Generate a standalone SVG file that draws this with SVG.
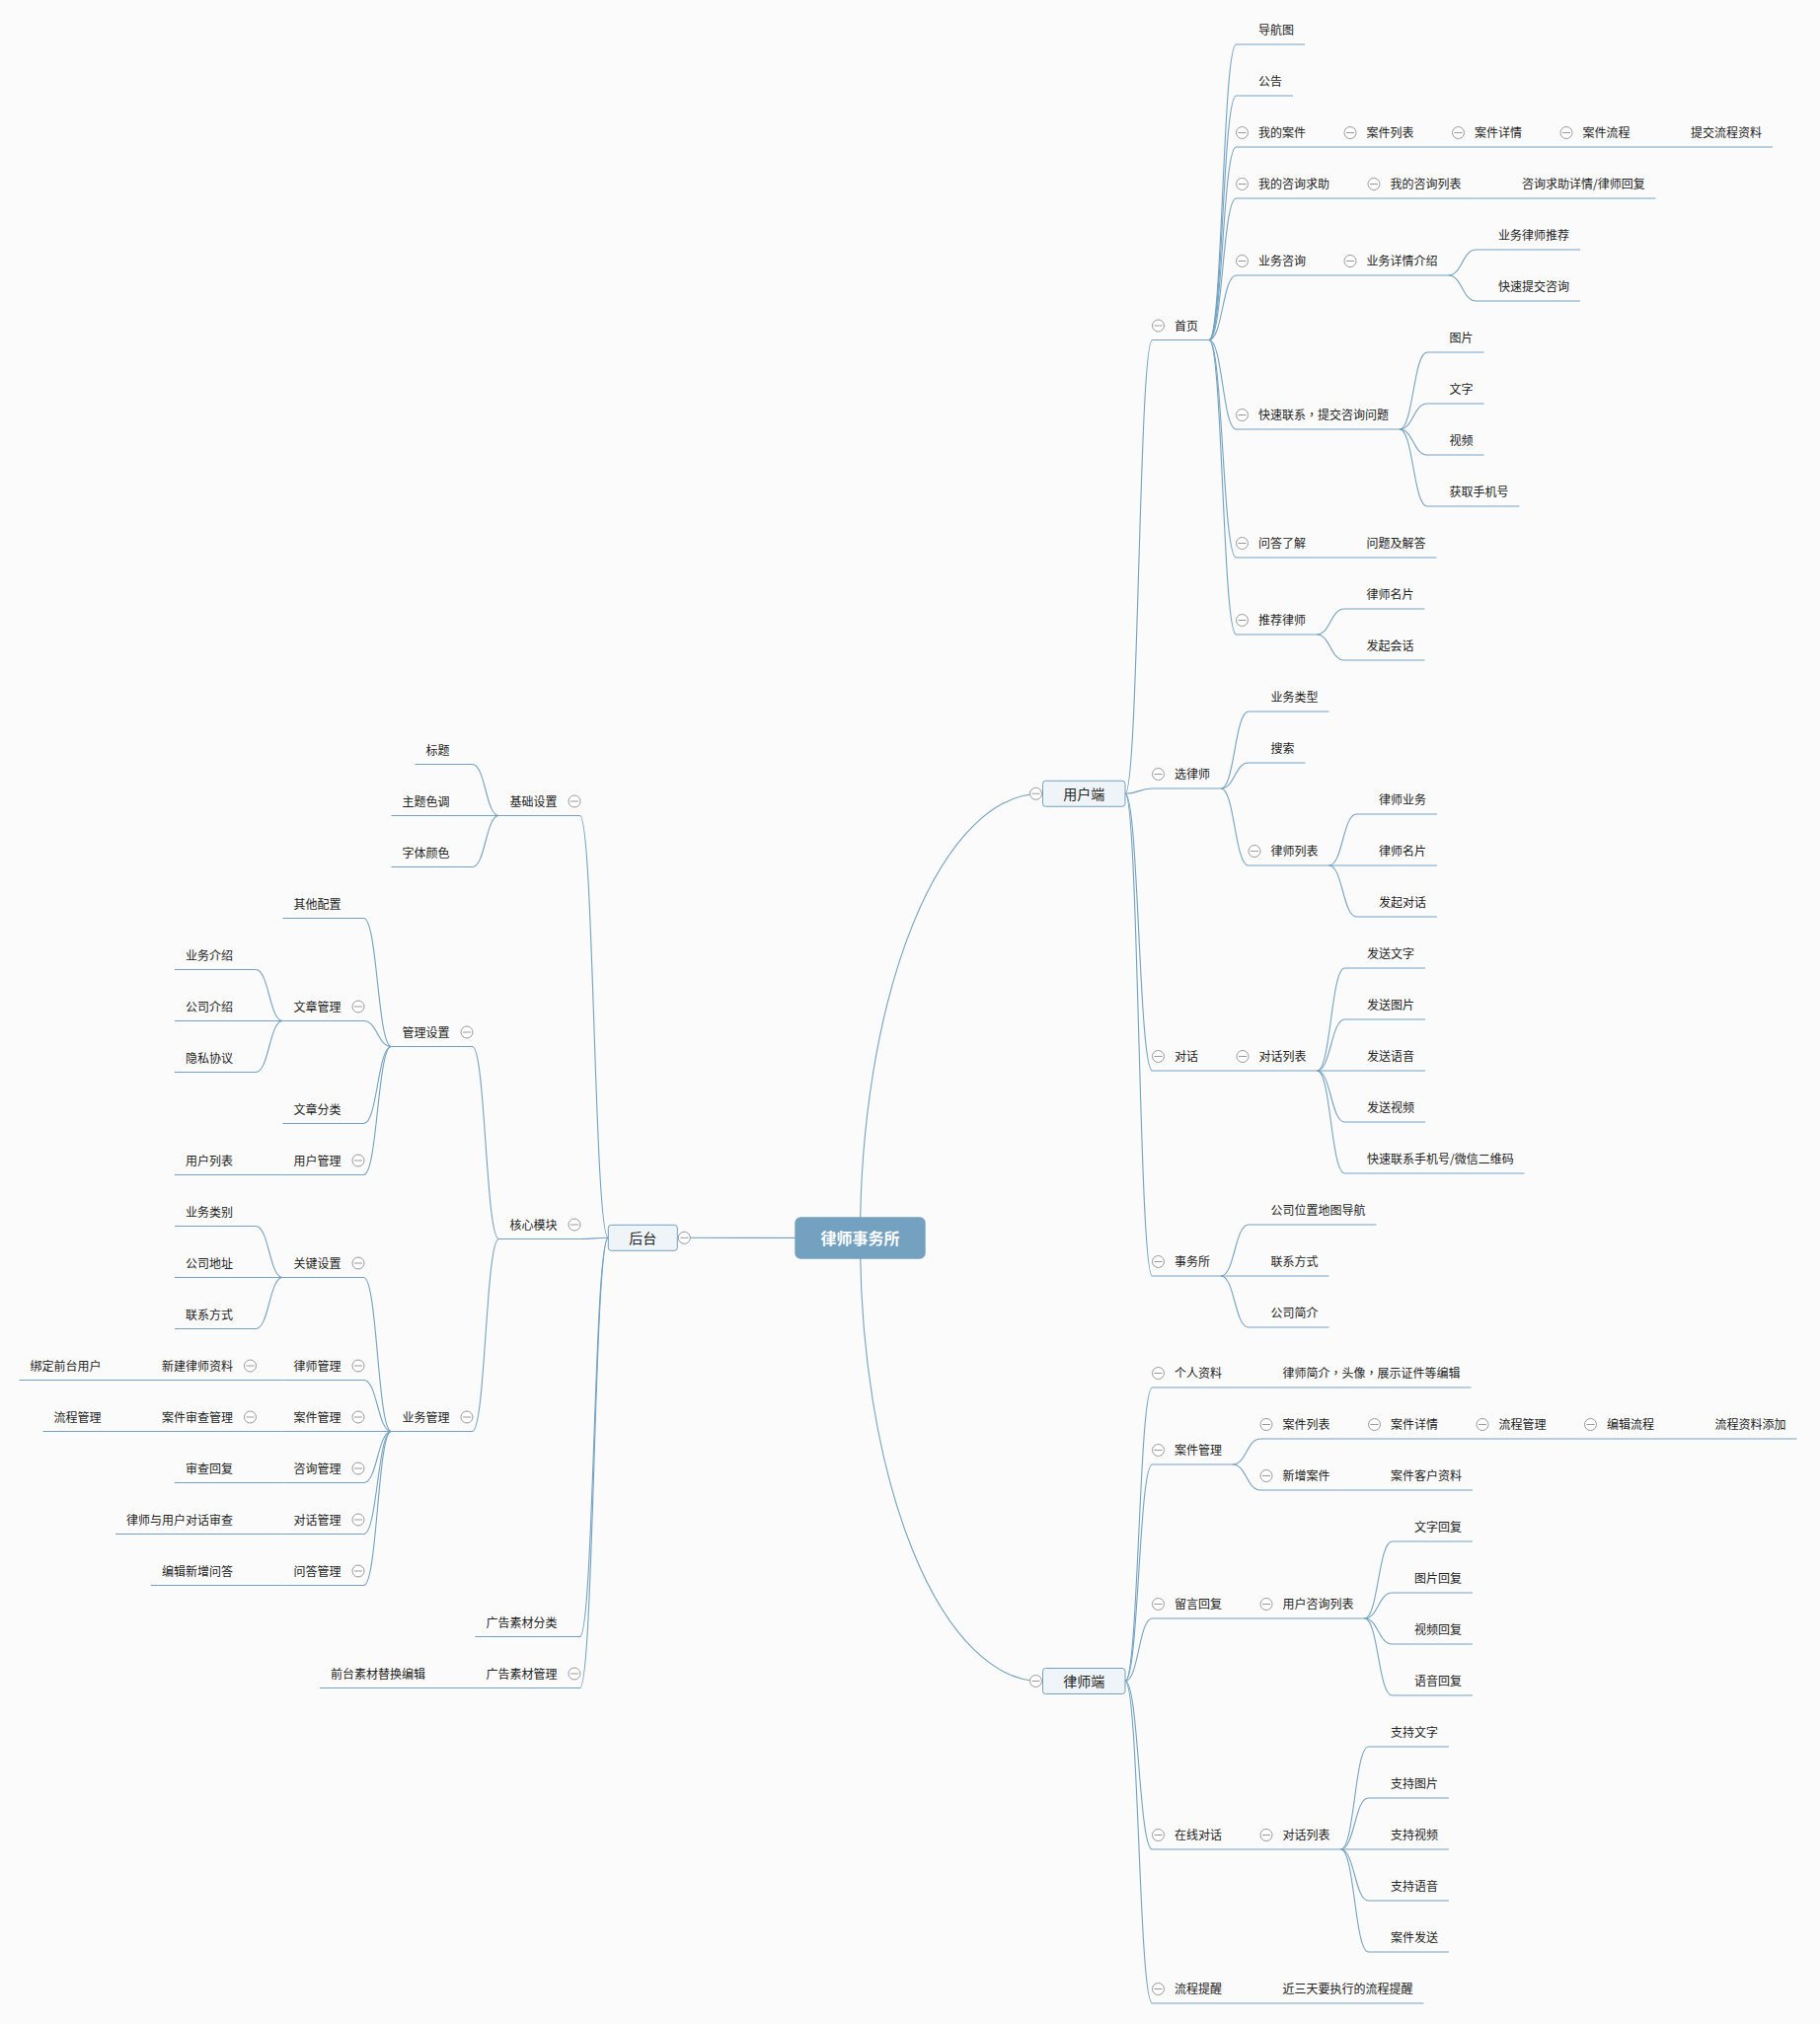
<svg xmlns="http://www.w3.org/2000/svg" width="1844" height="2051" viewBox="0 0 1844 2051">
<style>
.c{fill:none;stroke:#73a1bf;stroke-width:1.1}
.t{font-family:"Noto Sans CJK SC","Noto Sans",sans-serif;font-size:12px;fill:#222}
.r{text-anchor:end}
.p{font-family:"Noto Sans CJK TC","Noto Sans CJK SC",sans-serif}
.mb{fill:#eef4f8;stroke:#73a1bf;stroke-width:1}
.mt{font-family:"Noto Sans CJK SC","Noto Sans",sans-serif;font-size:14px;fill:#222;text-anchor:middle}
.rt{font-family:"Noto Sans CJK SC","Noto Sans",sans-serif;font-size:16px;font-weight:bold;fill:#fff;text-anchor:middle}
</style>
<defs>
<g id="ex"><circle r="6" fill="#fff" stroke="#999" stroke-width="1"/><path d="M-4 0H4" stroke="#999" stroke-width="1"/></g>
</defs>
<rect width="1844" height="2051" fill="#fbfbfb"/>
<g id="connectors">
<path class="c" d="M871.5 1254.5 A183 450.25 0 0 1 1054.5 804.25"/>
<path class="c" d="M871.5 1254.5 A183 449 0 0 0 1054.5 1703.5"/>
<path class="c" d="M871.5 1254.5 L688.3 1254.3"/>
<path class="c" d="M1140 804.25 C1153.75 804.25 1153.75 344.5 1167.5 344.5 L1225 344.5"/>
<path class="c" d="M1140 804.25 C1153.75 804.25 1153.75 799 1167.5 799 L1237 799"/>
<path class="c" d="M1140 804.25 C1153.75 804.25 1153.75 1085 1167.5 1085 L1225 1085"/>
<path class="c" d="M1140 804.25 C1153.75 804.25 1153.75 1293 1167.5 1293 L1237 1293"/>
<path class="c" d="M1225 344.5 C1238.75 344.5 1238.75 45 1252.5 45 L1322 45"/>
<path class="c" d="M1225 344.5 C1238.75 344.5 1238.75 97 1252.5 97 L1310 97"/>
<path class="c" d="M1225 344.5 C1238.75 344.5 1238.75 149 1252.5 149 L1334 149"/>
<path class="c" d="M1225 344.5 C1238.75 344.5 1238.75 201 1252.5 201 L1358 201"/>
<path class="c" d="M1225 344.5 C1238.75 344.5 1238.75 279 1252.5 279 L1334 279"/>
<path class="c" d="M1225 344.5 C1238.75 344.5 1238.75 435 1252.5 435 L1418 435"/>
<path class="c" d="M1225 344.5 C1238.75 344.5 1238.75 565 1252.5 565 L1334 565"/>
<path class="c" d="M1225 344.5 C1238.75 344.5 1238.75 643 1252.5 643 L1334 643"/>
<path class="c" d="M1334 149 L1443.5 149"/>
<path class="c" d="M1443.5 149 L1553 149"/>
<path class="c" d="M1553 149 L1662.5 149"/>
<path class="c" d="M1662.5 149 L1796 149"/>
<path class="c" d="M1358 201 L1491.5 201"/>
<path class="c" d="M1491.5 201 L1677.5 201"/>
<path class="c" d="M1334 279 L1467.5 279"/>
<path class="c" d="M1467.5 279 C1481.5 279 1481.5 253 1495.5 253 L1601 253"/>
<path class="c" d="M1467.5 279 C1481.5 279 1481.5 305 1495.5 305 L1601 305"/>
<path class="c" d="M1418 435 C1432 435 1432 357 1446 357 L1503.5 357"/>
<path class="c" d="M1418 435 C1432 435 1432 409 1446 409 L1503.5 409"/>
<path class="c" d="M1418 435 C1432 435 1432 461 1446 461 L1503.5 461"/>
<path class="c" d="M1418 435 C1432 435 1432 513 1446 513 L1539.5 513"/>
<path class="c" d="M1334 565 L1455.5 565"/>
<path class="c" d="M1334 643 C1348 643 1348 617 1362 617 L1443.5 617"/>
<path class="c" d="M1334 643 C1348 643 1348 669 1362 669 L1443.5 669"/>
<path class="c" d="M1237 799 C1251 799 1251 721 1265 721 L1346.5 721"/>
<path class="c" d="M1237 799 C1251 799 1251 773 1265 773 L1322.5 773"/>
<path class="c" d="M1237 799 C1251 799 1251 877 1265 877 L1346.5 877"/>
<path class="c" d="M1346.5 877 C1360.5 877 1360.5 825 1374.5 825 L1456 825"/>
<path class="c" d="M1346.5 877 L1456 877"/>
<path class="c" d="M1346.5 877 C1360.5 877 1360.5 929 1374.5 929 L1456 929"/>
<path class="c" d="M1225 1085 L1334.5 1085"/>
<path class="c" d="M1334.5 1085 C1348.5 1085 1348.5 981 1362.5 981 L1444 981"/>
<path class="c" d="M1334.5 1085 C1348.5 1085 1348.5 1033 1362.5 1033 L1444 1033"/>
<path class="c" d="M1334.5 1085 L1444 1085"/>
<path class="c" d="M1334.5 1085 C1348.5 1085 1348.5 1137 1362.5 1137 L1444 1137"/>
<path class="c" d="M1334.5 1085 C1348.5 1085 1348.5 1189 1362.5 1189 L1544.5 1189"/>
<path class="c" d="M1237 1293 C1251 1293 1251 1241 1265 1241 L1394.5 1241"/>
<path class="c" d="M1237 1293 L1346.5 1293"/>
<path class="c" d="M1237 1293 C1251 1293 1251 1345 1265 1345 L1346.5 1345"/>
<path class="c" d="M1140 1703.5 C1153.75 1703.5 1153.75 1406 1167.5 1406 L1249 1406"/>
<path class="c" d="M1140 1703.5 C1153.75 1703.5 1153.75 1484 1167.5 1484 L1249 1484"/>
<path class="c" d="M1140 1703.5 C1153.75 1703.5 1153.75 1640 1167.5 1640 L1249 1640"/>
<path class="c" d="M1140 1703.5 C1153.75 1703.5 1153.75 1874 1167.5 1874 L1249 1874"/>
<path class="c" d="M1140 1703.5 C1153.75 1703.5 1153.75 2030 1167.5 2030 L1249 2030"/>
<path class="c" d="M1249 1406 L1490.5 1406"/>
<path class="c" d="M1249 1484 C1263 1484 1263 1458 1277 1458 L1358.5 1458"/>
<path class="c" d="M1249 1484 C1263 1484 1263 1510 1277 1510 L1358.5 1510"/>
<path class="c" d="M1358.5 1458 L1468 1458"/>
<path class="c" d="M1468 1458 L1577.5 1458"/>
<path class="c" d="M1577.5 1458 L1687 1458"/>
<path class="c" d="M1687 1458 L1820.5 1458"/>
<path class="c" d="M1358.5 1510 L1492 1510"/>
<path class="c" d="M1249 1640 L1382.5 1640"/>
<path class="c" d="M1382.5 1640 C1396.5 1640 1396.5 1562 1410.5 1562 L1492 1562"/>
<path class="c" d="M1382.5 1640 C1396.5 1640 1396.5 1614 1410.5 1614 L1492 1614"/>
<path class="c" d="M1382.5 1640 C1396.5 1640 1396.5 1666 1410.5 1666 L1492 1666"/>
<path class="c" d="M1382.5 1640 C1396.5 1640 1396.5 1718 1410.5 1718 L1492 1718"/>
<path class="c" d="M1249 1874 L1358.5 1874"/>
<path class="c" d="M1358.5 1874 C1372.5 1874 1372.5 1770 1386.5 1770 L1468 1770"/>
<path class="c" d="M1358.5 1874 C1372.5 1874 1372.5 1822 1386.5 1822 L1468 1822"/>
<path class="c" d="M1358.5 1874 L1468 1874"/>
<path class="c" d="M1358.5 1874 C1372.5 1874 1372.5 1926 1386.5 1926 L1468 1926"/>
<path class="c" d="M1358.5 1874 C1372.5 1874 1372.5 1978 1386.5 1978 L1468 1978"/>
<path class="c" d="M1249 2030 L1442.5 2030"/>
<path class="c" d="M616.3 1254.3 C601.9 1254.3 601.9 826.5 587.5 826.5 L505.5 826.5"/>
<path class="c" d="M616.3 1254.3 C601.9 1254.3 601.9 1255.5 587.5 1255.5 L505.5 1255.5"/>
<path class="c" d="M616.3 1254.3 C601.9 1254.3 601.9 1658.5 587.5 1658.5 L481.5 1658.5"/>
<path class="c" d="M616.3 1254.3 C601.9 1254.3 601.9 1710.5 587.5 1710.5 L481.5 1710.5"/>
<path class="c" d="M505.5 826.5 C492 826.5 492 774.5 478.5 774.5 L420.5 774.5"/>
<path class="c" d="M505.5 826.5 L396.5 826.5"/>
<path class="c" d="M505.5 826.5 C492 826.5 492 878.5 478.5 878.5 L396.5 878.5"/>
<path class="c" d="M505.5 1255.5 C492 1255.5 492 1060.5 478.5 1060.5 L396.5 1060.5"/>
<path class="c" d="M505.5 1255.5 C492 1255.5 492 1450.5 478.5 1450.5 L396.5 1450.5"/>
<path class="c" d="M396.5 1060.5 C382.5 1060.5 382.5 930.5 368.5 930.5 L286.5 930.5"/>
<path class="c" d="M396.5 1060.5 C382.5 1060.5 382.5 1034.5 368.5 1034.5 L286.5 1034.5"/>
<path class="c" d="M396.5 1060.5 C382.5 1060.5 382.5 1138.5 368.5 1138.5 L286.5 1138.5"/>
<path class="c" d="M396.5 1060.5 C382.5 1060.5 382.5 1190.5 368.5 1190.5 L286.5 1190.5"/>
<path class="c" d="M286.5 1034.5 C272.75 1034.5 272.75 982.5 259 982.5 L177 982.5"/>
<path class="c" d="M286.5 1034.5 L177 1034.5"/>
<path class="c" d="M286.5 1034.5 C272.75 1034.5 272.75 1086.5 259 1086.5 L177 1086.5"/>
<path class="c" d="M286.5 1190.5 L177 1190.5"/>
<path class="c" d="M396.5 1450.5 C382.5 1450.5 382.5 1294.5 368.5 1294.5 L286.5 1294.5"/>
<path class="c" d="M396.5 1450.5 C382.5 1450.5 382.5 1398.5 368.5 1398.5 L286.5 1398.5"/>
<path class="c" d="M396.5 1450.5 L286.5 1450.5"/>
<path class="c" d="M396.5 1450.5 C382.5 1450.5 382.5 1502.5 368.5 1502.5 L286.5 1502.5"/>
<path class="c" d="M396.5 1450.5 C382.5 1450.5 382.5 1554.5 368.5 1554.5 L286.5 1554.5"/>
<path class="c" d="M396.5 1450.5 C382.5 1450.5 382.5 1606.5 368.5 1606.5 L286.5 1606.5"/>
<path class="c" d="M286.5 1294.5 C272.75 1294.5 272.75 1242.5 259 1242.5 L177 1242.5"/>
<path class="c" d="M286.5 1294.5 L177 1294.5"/>
<path class="c" d="M286.5 1294.5 C272.75 1294.5 272.75 1346.5 259 1346.5 L177 1346.5"/>
<path class="c" d="M286.5 1398.5 L153 1398.5"/>
<path class="c" d="M153 1398.5 L19.5 1398.5"/>
<path class="c" d="M286.5 1450.5 L153 1450.5"/>
<path class="c" d="M153 1450.5 L43.5 1450.5"/>
<path class="c" d="M286.5 1502.5 L177 1502.5"/>
<path class="c" d="M286.5 1554.5 L117 1554.5"/>
<path class="c" d="M286.5 1606.5 L153 1606.5"/>
<path class="c" d="M481.5 1710.5 L324 1710.5"/>
</g>
<g id="n-root"><rect x="805.3" y="1233.3" width="132.4" height="42.4" rx="6" fill="#73a1bf"/><text class="rt" x="871.5" y="1260.5">律师事务所</text></g>
<g id="n-user"><rect class="mb" x="1056.5" y="791.25" width="83.5" height="26" rx="3"/><text class="mt" x="1098.25" y="809.5">用户端</text><use href="#ex" x="1049.5" y="804.25"/></g>
<g id="n-lawyer"><rect class="mb" x="1056.5" y="1690.5" width="83.5" height="26" rx="3"/><text class="mt" x="1098.25" y="1708.8">律师端</text><use href="#ex" x="1049.5" y="1703.5"/></g>
<g id="n-admin"><rect class="mb" x="616.3" y="1241.3" width="70" height="26" rx="3"/><text class="mt" x="651.3" y="1259.6">后台</text><use href="#ex" x="693.3" y="1254.3"/></g>
<g id="n-home"><text class="t" x="1190" y="334.5">首页</text><use href="#ex" x="1173.5" y="330"/></g>
<g id="n-nav"><text class="t" x="1275" y="35">导航图</text></g>
<g id="n-notice"><text class="t" x="1275" y="87">公告</text></g>
<g id="n-mycase"><text class="t" x="1275" y="139">我的案件</text><use href="#ex" x="1258.5" y="134.5"/></g>
<g id="n-caselist"><text class="t" x="1384.5" y="139">案件列表</text><use href="#ex" x="1368" y="134.5"/></g>
<g id="n-casedetail"><text class="t" x="1494" y="139">案件详情</text><use href="#ex" x="1477.5" y="134.5"/></g>
<g id="n-caseflow"><text class="t" x="1603.5" y="139">案件流程</text><use href="#ex" x="1587" y="134.5"/></g>
<g id="n-submitflow"><text class="t" x="1713" y="139">提交流程资料</text></g>
<g id="n-myconsult"><text class="t" x="1275" y="191">我的咨询求助</text><use href="#ex" x="1258.5" y="186.5"/></g>
<g id="n-myconsultlist"><text class="t" x="1408.5" y="191">我的咨询列表</text><use href="#ex" x="1392" y="186.5"/></g>
<g id="n-consultdetail"><text class="t" x="1542" y="191">咨询求助详情/律师回复</text></g>
<g id="n-bizconsult"><text class="t" x="1275" y="269">业务咨询</text><use href="#ex" x="1258.5" y="264.5"/></g>
<g id="n-bizdetail"><text class="t" x="1384.5" y="269">业务详情介绍</text><use href="#ex" x="1368" y="264.5"/></g>
<g id="n-bizlawyer"><text class="t" x="1518" y="243">业务律师推荐</text></g>
<g id="n-quicksubmit"><text class="t" x="1518" y="295">快速提交咨询</text></g>
<g id="n-quickcontact"><text class="t" x="1275" y="425">快速联系<tspan class="p">，</tspan>提交咨询问题</text><use href="#ex" x="1258.5" y="420.5"/></g>
<g id="n-pic"><text class="t" x="1468.5" y="347">图片</text></g>
<g id="n-txt"><text class="t" x="1468.5" y="399">文字</text></g>
<g id="n-video"><text class="t" x="1468.5" y="451">视频</text></g>
<g id="n-phone"><text class="t" x="1468.5" y="503">获取手机号</text></g>
<g id="n-qa"><text class="t" x="1275" y="555">问答了解</text><use href="#ex" x="1258.5" y="550.5"/></g>
<g id="n-qaans"><text class="t" x="1384.5" y="555">问题及解答</text></g>
<g id="n-reclawyer"><text class="t" x="1275" y="633">推荐律师</text><use href="#ex" x="1258.5" y="628.5"/></g>
<g id="n-card1"><text class="t" x="1384.5" y="607">律师名片</text></g>
<g id="n-session"><text class="t" x="1384.5" y="659">发起会话</text></g>
<g id="n-choose"><text class="t" x="1190" y="789">选律师</text><use href="#ex" x="1173.5" y="784.5"/></g>
<g id="n-biztype"><text class="t" x="1287.5" y="711">业务类型</text></g>
<g id="n-search"><text class="t" x="1287.5" y="763">搜索</text></g>
<g id="n-lawyerlist"><text class="t" x="1287.5" y="867">律师列表</text><use href="#ex" x="1271" y="862.5"/></g>
<g id="n-lawyerbiz"><text class="t" x="1397" y="815">律师业务</text></g>
<g id="n-card2"><text class="t" x="1397" y="867">律师名片</text></g>
<g id="n-startchat"><text class="t" x="1397" y="919">发起对话</text></g>
<g id="n-chat"><text class="t" x="1190" y="1075">对话</text><use href="#ex" x="1173.5" y="1070.5"/></g>
<g id="n-chatlist"><text class="t" x="1275.5" y="1075">对话列表</text><use href="#ex" x="1259" y="1070.5"/></g>
<g id="n-sendtxt"><text class="t" x="1385" y="971">发送文字</text></g>
<g id="n-sendpic"><text class="t" x="1385" y="1023">发送图片</text></g>
<g id="n-sendvoice"><text class="t" x="1385" y="1075">发送语音</text></g>
<g id="n-sendvideo"><text class="t" x="1385" y="1127">发送视频</text></g>
<g id="n-qrcode"><text class="t" x="1385" y="1179">快速联系手机号/微信二维码</text></g>
<g id="n-office"><text class="t" x="1190" y="1283">事务所</text><use href="#ex" x="1173.5" y="1278.5"/></g>
<g id="n-map"><text class="t" x="1287.5" y="1231">公司位置地图导航</text></g>
<g id="n-contact"><text class="t" x="1287.5" y="1283">联系方式</text></g>
<g id="n-intro"><text class="t" x="1287.5" y="1335">公司简介</text></g>
<g id="n-profile"><text class="t" x="1190" y="1396">个人资料</text><use href="#ex" x="1173.5" y="1391.5"/></g>
<g id="n-profileedit"><text class="t" x="1299.5" y="1396">律师简介<tspan class="p">，</tspan>头像<tspan class="p">，</tspan>展示证件等编辑</text></g>
<g id="n-casemgr"><text class="t" x="1190" y="1474">案件管理</text><use href="#ex" x="1173.5" y="1469.5"/></g>
<g id="n-lcaselist"><text class="t" x="1299.5" y="1448">案件列表</text><use href="#ex" x="1283" y="1443.5"/></g>
<g id="n-lcasedetail"><text class="t" x="1409" y="1448">案件详情</text><use href="#ex" x="1392.5" y="1443.5"/></g>
<g id="n-lflowmgr"><text class="t" x="1518.5" y="1448">流程管理</text><use href="#ex" x="1502" y="1443.5"/></g>
<g id="n-editflow"><text class="t" x="1628" y="1448">编辑流程</text><use href="#ex" x="1611.5" y="1443.5"/></g>
<g id="n-flowadd"><text class="t" x="1737.5" y="1448">流程资料添加</text></g>
<g id="n-newcase"><text class="t" x="1299.5" y="1500">新增案件</text><use href="#ex" x="1283" y="1495.5"/></g>
<g id="n-client"><text class="t" x="1409" y="1500">案件客户资料</text></g>
<g id="n-reply"><text class="t" x="1190" y="1630">留言回复</text><use href="#ex" x="1173.5" y="1625.5"/></g>
<g id="n-userconsult"><text class="t" x="1299.5" y="1630">用户咨询列表</text><use href="#ex" x="1283" y="1625.5"/></g>
<g id="n-rtxt"><text class="t" x="1433" y="1552">文字回复</text></g>
<g id="n-rpic"><text class="t" x="1433" y="1604">图片回复</text></g>
<g id="n-rvideo"><text class="t" x="1433" y="1656">视频回复</text></g>
<g id="n-rvoice"><text class="t" x="1433" y="1708">语音回复</text></g>
<g id="n-online"><text class="t" x="1190" y="1864">在线对话</text><use href="#ex" x="1173.5" y="1859.5"/></g>
<g id="n-lchatlist"><text class="t" x="1299.5" y="1864">对话列表</text><use href="#ex" x="1283" y="1859.5"/></g>
<g id="n-stxt"><text class="t" x="1409" y="1760">支持文字</text></g>
<g id="n-spic"><text class="t" x="1409" y="1812">支持图片</text></g>
<g id="n-svideo"><text class="t" x="1409" y="1864">支持视频</text></g>
<g id="n-svoice"><text class="t" x="1409" y="1916">支持语音</text></g>
<g id="n-casesend"><text class="t" x="1409" y="1968">案件发送</text></g>
<g id="n-remind"><text class="t" x="1190" y="2020">流程提醒</text><use href="#ex" x="1173.5" y="2015.5"/></g>
<g id="n-remind3"><text class="t" x="1299.5" y="2020">近三天要执行的流程提醒</text></g>
<g id="n-basic"><text class="t r" x="564.5" y="816.5">基础设置</text><use href="#ex" x="582" y="812"/></g>
<g id="n-title"><text class="t r" x="455.5" y="764.5">标题</text></g>
<g id="n-theme"><text class="t r" x="455.5" y="816.5">主题色调</text></g>
<g id="n-fontcolor"><text class="t r" x="455.5" y="868.5">字体颜色</text></g>
<g id="n-core"><text class="t r" x="564.5" y="1245.5">核心模块</text><use href="#ex" x="582" y="1241"/></g>
<g id="n-mgr"><text class="t r" x="455.5" y="1050.5">管理设置</text><use href="#ex" x="473" y="1046"/></g>
<g id="n-other"><text class="t r" x="345.5" y="920.5">其他配置</text></g>
<g id="n-article"><text class="t r" x="345.5" y="1024.5">文章管理</text><use href="#ex" x="363" y="1020"/></g>
<g id="n-bizintro"><text class="t r" x="236" y="972.5">业务介绍</text></g>
<g id="n-compintro"><text class="t r" x="236" y="1024.5">公司介绍</text></g>
<g id="n-privacy"><text class="t r" x="236" y="1076.5">隐私协议</text></g>
<g id="n-artcat"><text class="t r" x="345.5" y="1128.5">文章分类</text></g>
<g id="n-usermgr"><text class="t r" x="345.5" y="1180.5">用户管理</text><use href="#ex" x="363" y="1176"/></g>
<g id="n-userlist"><text class="t r" x="236" y="1180.5">用户列表</text></g>
<g id="n-bizmgr"><text class="t r" x="455.5" y="1440.5">业务管理</text><use href="#ex" x="473" y="1436"/></g>
<g id="n-key"><text class="t r" x="345.5" y="1284.5">关键设置</text><use href="#ex" x="363" y="1280"/></g>
<g id="n-bizcat"><text class="t r" x="236" y="1232.5">业务类别</text></g>
<g id="n-addr"><text class="t r" x="236" y="1284.5">公司地址</text></g>
<g id="n-contact2"><text class="t r" x="236" y="1336.5">联系方式</text></g>
<g id="n-lawyermgr"><text class="t r" x="345.5" y="1388.5">律师管理</text><use href="#ex" x="363" y="1384"/></g>
<g id="n-newlawyer"><text class="t r" x="236" y="1388.5">新建律师资料</text><use href="#ex" x="253.5" y="1384"/></g>
<g id="n-bind"><text class="t r" x="102.5" y="1388.5">绑定前台用户</text></g>
<g id="n-acasemgr"><text class="t r" x="345.5" y="1440.5">案件管理</text><use href="#ex" x="363" y="1436"/></g>
<g id="n-caseaudit"><text class="t r" x="236" y="1440.5">案件审查管理</text><use href="#ex" x="253.5" y="1436"/></g>
<g id="n-aflow"><text class="t r" x="102.5" y="1440.5">流程管理</text></g>
<g id="n-consultmgr"><text class="t r" x="345.5" y="1492.5">咨询管理</text><use href="#ex" x="363" y="1488"/></g>
<g id="n-auditreply"><text class="t r" x="236" y="1492.5">审查回复</text></g>
<g id="n-chatmgr"><text class="t r" x="345.5" y="1544.5">对话管理</text><use href="#ex" x="363" y="1540"/></g>
<g id="n-chataudit"><text class="t r" x="236" y="1544.5">律师与用户对话审查</text></g>
<g id="n-qamgr"><text class="t r" x="345.5" y="1596.5">问答管理</text><use href="#ex" x="363" y="1592"/></g>
<g id="n-qaedit"><text class="t r" x="236" y="1596.5">编辑新增问答</text></g>
<g id="n-adcat"><text class="t r" x="564.5" y="1648.5">广告素材分类</text></g>
<g id="n-admgr"><text class="t r" x="564.5" y="1700.5">广告素材管理</text><use href="#ex" x="582" y="1696"/></g>
<g id="n-adedit"><text class="t r" x="431" y="1700.5">前台素材替换编辑</text></g>
</svg>
